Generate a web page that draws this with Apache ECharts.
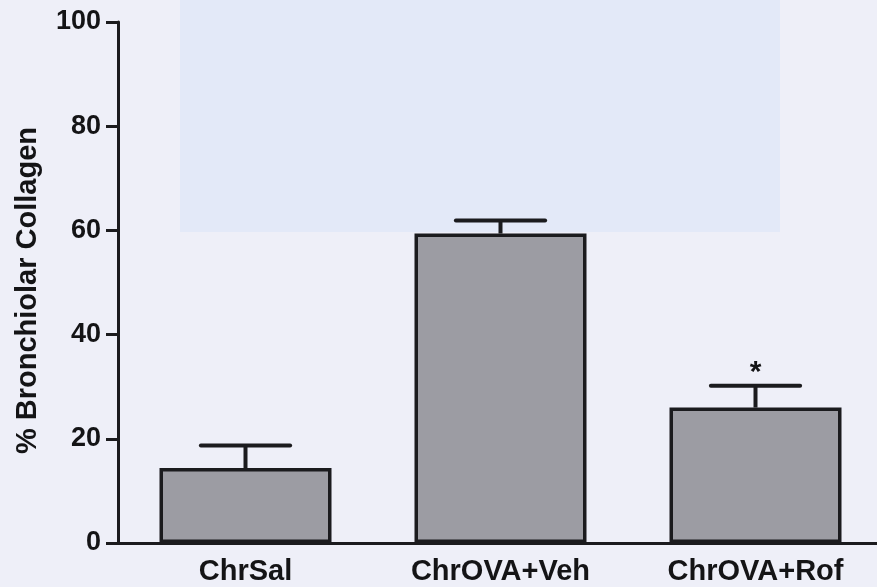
<!DOCTYPE html>
<html>
<head>
<meta charset="utf-8">
<script src="https://cdn.jsdelivr.net/npm/echarts@6/dist/echarts.min.js"></script>
<style>
html,body{margin:0;padding:0;background:#eeeff8;}
#chart{width:877px;height:587px;}
</style>
</head>
<body>
<div id="chart"></div>
<script>
var categories = ['ChrSal', 'ChrOVA+Veh', 'ChrOVA+Rof'];
var means = [14.4, 59.4, 26.0];
var errors = [4.3, 2.5, 4.2];
var significance = ['', '', '*'];
var yTicks = [0, 20, 40, 60, 80, 100];
var yTitle = '% Bronchiolar Collagen';

var chart = echarts.init(document.getElementById('chart'), null, {renderer: 'canvas'});
var dark = '#1b1b1e';
var font = 'Liberation Sans, Arial, sans-serif';

var errData = means.map(function (m, i) { return [i, m, m + errors[i], significance[i]]; });

chart.setOption({
  backgroundColor: '#eeeff8',
  animation: false,
  graphic: [{
    type: 'rect', z: -10, silent: true,
    shape: {x: 180, y: 0, width: 600, height: 232},
    style: {fill: '#e3e9f8'}
  }],
  grid: {left: 118, top: 22, width: 765, bottom: 44, containLabel: false, outerBoundsMode: 'none'},
  xAxis: {
    type: 'category',
    data: categories,
    axisLine: {lineStyle: {color: dark, width: 3}},
    axisTick: {alignWithLabel: true, length: 7, lineStyle: {color: dark, width: 2}},
    axisLabel: {color: '#141416', fontFamily: font, fontWeight: 'bold', fontSize: 29, margin: 14}
  },
  yAxis: {
    type: 'value',
    min: yTicks[0], max: yTicks[yTicks.length - 1], interval: 20,
    name: yTitle,
    nameLocation: 'middle',
    nameRotate: 90,
    nameGap: 76,
    nameTextStyle: {color: '#141416', fontFamily: font, fontWeight: 'bold', fontSize: 29, padding: [0, 16, 0, 0]},
    axisLine: {show: true, lineStyle: {color: dark, width: 3}},
    axisTick: {show: true, length: 12, lineStyle: {color: dark, width: 3}},
    splitLine: {show: false},
    axisLabel: {color: '#141416', fontFamily: font, fontWeight: 'bold', fontSize: 27, margin: 17}
  },
  series: [{
    type: 'bar',
    data: means,
    barWidth: 172,
    itemStyle: {color: '#9c9ca3', borderColor: dark, borderWidth: 3.5},
    z: 2
  }, {
    type: 'custom',
    data: errData,
    z: 3,
    renderItem: function (params, api) {
      var x = api.value(0);
      var base = api.coord([x, api.value(1)]);
      var top = api.coord([x, api.value(2)]);
      var bw = api.size([1, 0])[0];
      var half = bw * 0.175;
      var style = {stroke: dark, lineWidth: 4, lineCap: 'round'};
      var children = [
        {type: 'line', shape: {x1: base[0], y1: base[1], x2: top[0], y2: top[1]}, style: {stroke: dark, lineWidth: 4}},
        {type: 'line', shape: {x1: top[0] - half, y1: top[1], x2: top[0] + half, y2: top[1]}, style: style}
      ];
      var sig = api.value(3);
      if (sig) {
        children.push({type: 'text', x: top[0], y: top[1] + 2, style: {
          text: sig, fill: '#141416', font: 'bold 30px ' + font, align: 'center', verticalAlign: 'bottom'
        }});
      }
      return {type: 'group', children: children};
    }
  }]
});
</script>
</body>
</html>
